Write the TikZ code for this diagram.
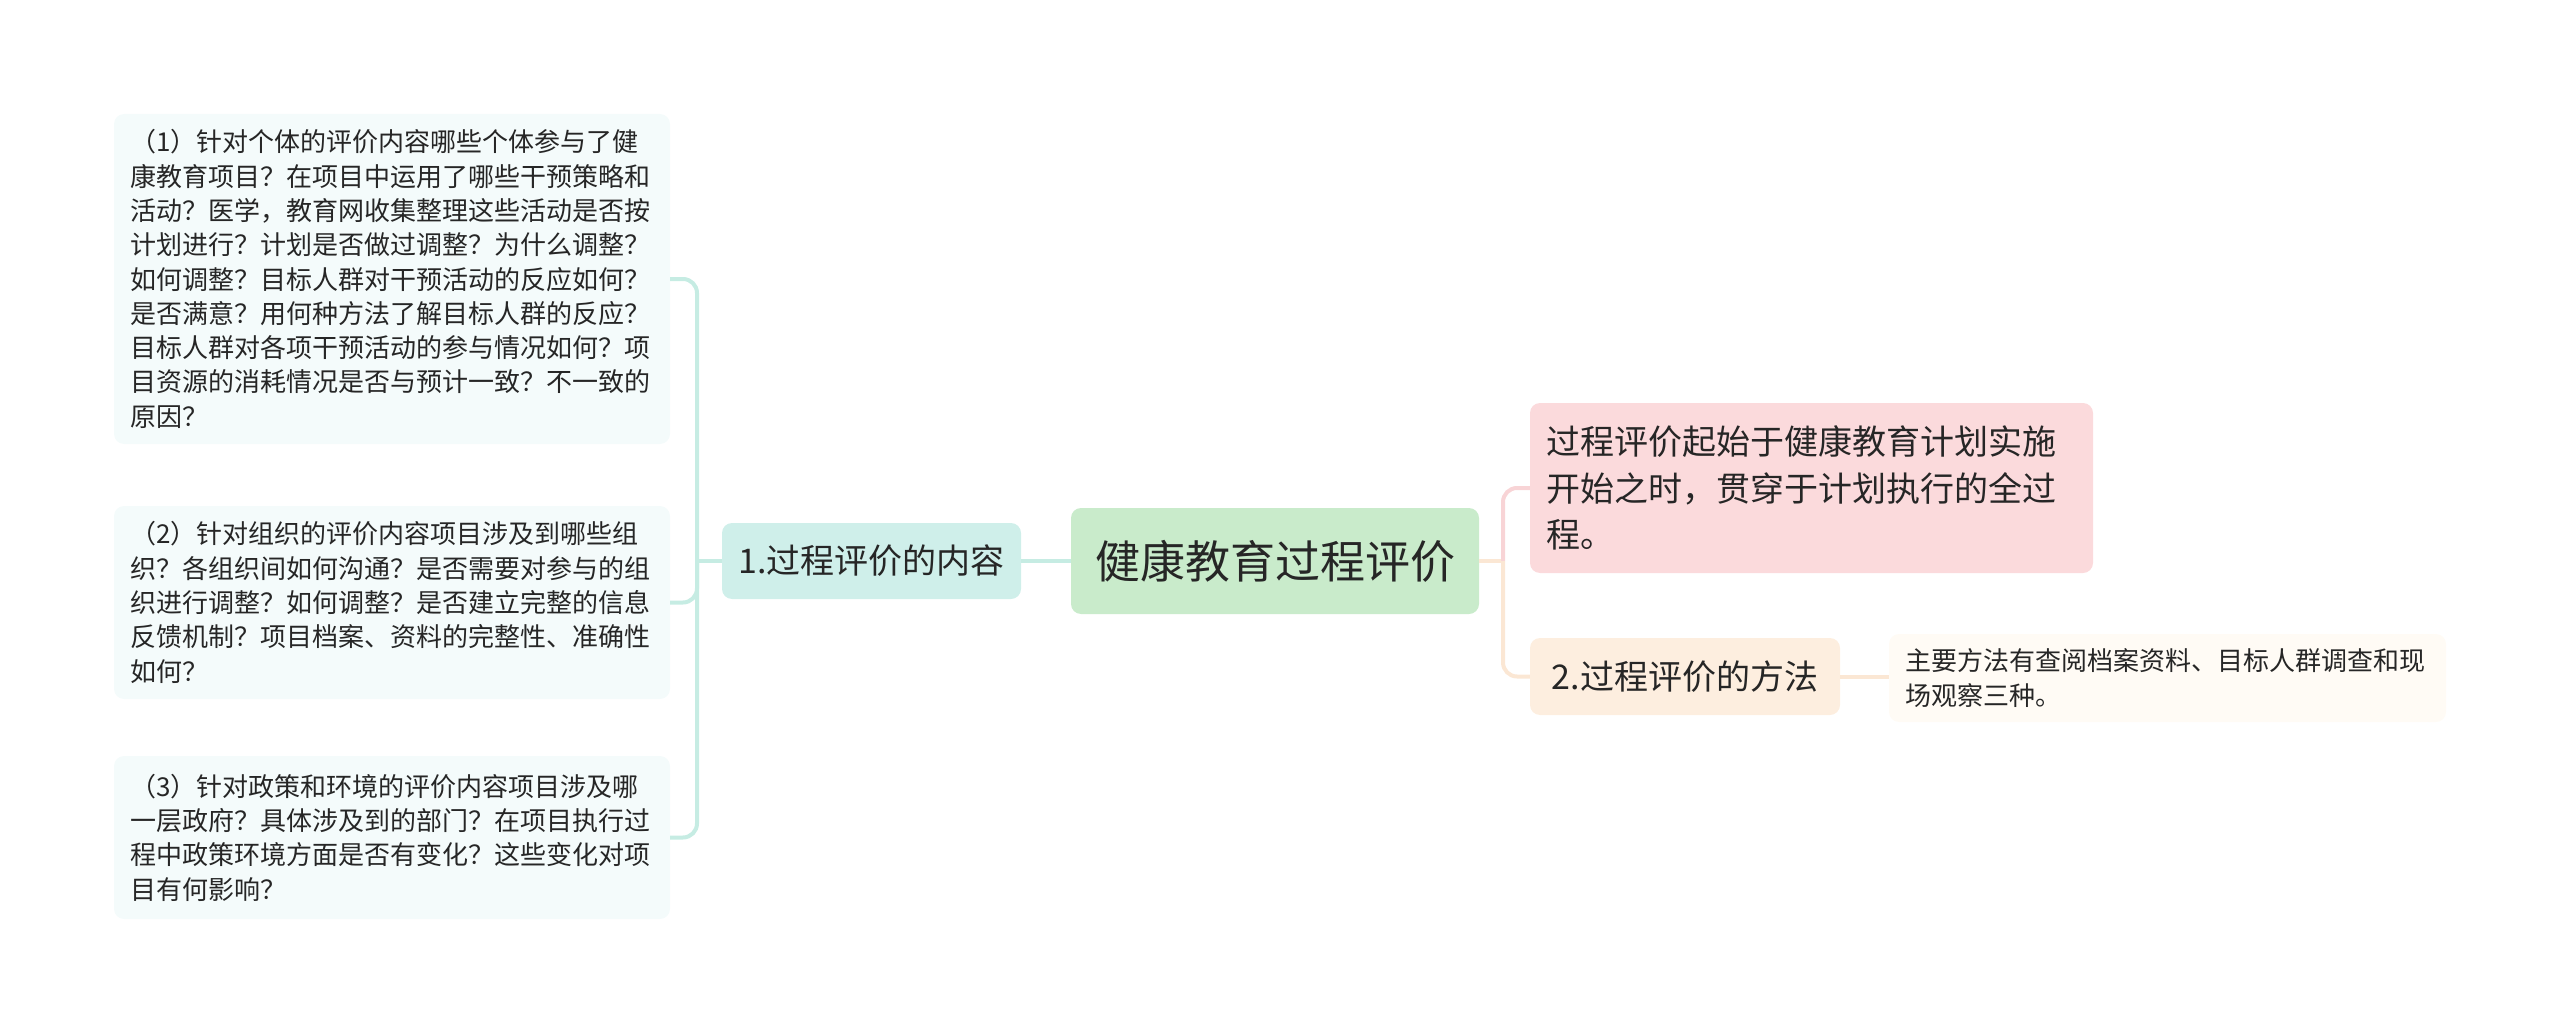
\documentclass[tikz,border=0pt]{standalone}
\usepackage{fontspec}
\setmainfont{Noto Sans CJK SC}
\definecolor{txt}{HTML}{262626}
\definecolor{rootfill}{HTML}{C9EBCB}
\definecolor{tealfill}{HTML}{CFEFEA}
\definecolor{tealleaf}{HTML}{F4FBFB}
\definecolor{tealline}{HTML}{C6ECE3}
\definecolor{pinkfill}{HTML}{FBDADC}
\definecolor{pinkline}{HTML}{F8D4D6}
\definecolor{peachfill}{HTML}{FDEEDF}
\definecolor{peachline}{HTML}{FBE7D4}
\definecolor{peachleaf}{HTML}{FFFBF5}

\begin{document}
\begin{tikzpicture}[x=1pt,y=-1pt,
  box/.style={rounded corners=10pt, inner xsep=16pt, inner ysep=0pt, text=txt},
  leafbox/.style={box, align=left, text width=524pt,
    font=\fontsize{26}{34.3}\selectfont},
  bigbox/.style={box, font=\fontsize{34}{46.5}\selectfont},
  link/.style={line width=4pt}]
\useasboundingbox (0,0) rectangle (2560,1035);

% centre
\node [box, fill=rootfill, minimum width=408pt, minimum height=106pt,
  font=\fontsize{45}{54}\selectfont] (root) at (1275,561) {健康教育过程评价};

% left branch
\node [bigbox, fill=tealfill, minimum width=299pt, minimum height=76pt] (content) at (871.5,561) {1.过程评价的内容};
\node [leafbox, fill=tealleaf, minimum height=330pt] (indiv) at (392,279) {%
（1）针对个体的评价内容哪些个体参与了健\\
康教育项目？在项目中运用了哪些干预策略和\\
活动？医学，教育网收集整理这些活动是否按\\
计划进行？计划是否做过调整？为什么调整？\\
如何调整？目标人群对干预活动的反应如何？\\
是否满意？用何种方法了解目标人群的反应？\\
目标人群对各项干预活动的参与情况如何？项\\
目资源的消耗情况是否与预计一致？不一致的\\
原因？};
\node [leafbox, fill=tealleaf, minimum height=193pt] (org) at (392,602.5) {%
（2）针对组织的评价内容项目涉及到哪些组\\
织？各组织间如何沟通？是否需要对参与的组\\
织进行调整？如何调整？是否建立完整的信息\\
反馈机制？项目档案、资料的完整性、准确性\\
如何？};
\node [leafbox, fill=tealleaf, minimum height=163pt] (policy) at (392,837.5) {%
（3）针对政策和环境的评价内容项目涉及哪\\
一层政府？具体涉及到的部门？在项目执行过\\
程中政策环境方面是否有变化？这些变化对项\\
目有何影响？};

% right branch
\node [bigbox, fill=pinkfill, align=left, text width=531pt, minimum height=170pt] (start) at (1811.5,488) {%
过程评价起始于健康教育计划实施\\
开始之时，贯穿于计划执行的全过\\
程。};
\node [bigbox, fill=peachfill, minimum width=310pt, minimum height=77pt] (method) at (1685,676.5) {2.过程评价的方法};
\node [leafbox, fill=peachleaf, text width=525pt, minimum height=88pt] (survey) at (2167.5,678) {%
主要方法有查阅档案资料、目标人群调查和现\\
场观察三种。};

% connectors
\coordinate (jl) at (697,561);
\coordinate (jr) at (1503,561);
\draw [link, tealline] (content.west) -- (jl);
\draw [link, tealline, rounded corners=14pt] (jl) |- (indiv.east);
\draw [link, tealline, rounded corners=14pt] (jl) |- (org.east);
\draw [link, tealline, rounded corners=14pt] (jl) |- (policy.east);
\draw [link, tealline] (root.west) -- (content.east);
\draw [link, peachline] (root.east) -- (jr);
\draw [link, pinkline, rounded corners=14pt] (jr) |- (start.west);
\draw [link, peachline, rounded corners=14pt] (jr) |- (method.west);
\draw [link, peachline] (method.east) -- (method.east -| survey.west);
\end{tikzpicture}
\end{document}
